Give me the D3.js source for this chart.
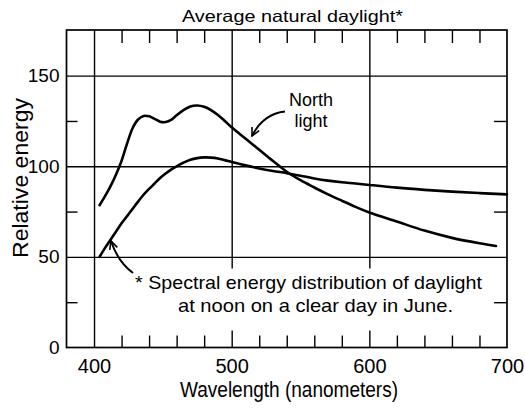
<!DOCTYPE html>
<html>
<head>
<meta charset="utf-8">
<script src="https://cdn.jsdelivr.net/npm/d3@7"></script>
<style>
  html, body { margin: 0; padding: 0; background: #fff; }
  svg { display: block; }
  text { font-family: "Liberation Sans", Arial, sans-serif; fill: #000; }
</style>
</head>
<body>
<svg id="chart" width="525" height="413"></svg>
<script>
// Spectral energy curves (wavelength in nm, relative energy)
const northWavelength = [404, 408, 412, 416, 420, 424, 428, 432, 436, 440, 444, 448, 452, 456, 460, 465, 470, 475, 480, 485, 490, 495, 500, 510, 520, 530, 540, 550, 560, 570, 580, 590, 600, 620, 640, 660, 680, 692];
const northEnergy     = [78.5, 83.5, 89, 95.5, 103, 112.5, 121, 125.8, 127.8, 127.6, 126.2, 124.6, 124.4, 125.6, 128.2, 131, 133, 133.5, 132.8, 131, 128.3, 125, 121.5, 115.3, 109.1, 102.9, 97, 92.3, 88.3, 84.5, 81, 77.6, 74.5, 69.5, 64.5, 60.5, 57.5, 56];

const avgWavelength = [404, 408, 412, 416, 420, 424, 428, 432, 436, 440, 444, 448, 452, 456, 460, 465, 470, 475, 480, 485, 490, 495, 500, 510, 520, 530, 540, 550, 560, 570, 580, 590, 600, 620, 640, 660, 680, 700];
const avgEnergy     = [50, 55, 59.5, 64, 68.5, 72.5, 76.5, 80.5, 84.3, 87.5, 90.5, 93.5, 96, 98.2, 100, 102, 103.6, 104.5, 104.9, 104.8, 104.3, 103.4, 102.4, 100.5, 98.8, 97.4, 96.2, 94.8, 93.3, 92.1, 91.2, 90.5, 89.7, 88.2, 87, 86, 85.2, 84.5];

// Axis ticks
const xTickLabels = [400, 500, 600, 700];
const yTickLabels = [0, 50, 100, 150];
const xGridValues = [400, 500, 600];
const yGridValues = [50, 100, 150];
const xMinorTicks = [420, 440, 460, 480, 520, 540, 560, 580, 620, 640, 660, 680];
const yMinorTicks = [25, 75, 125];

// Text
const titleText = "Average natural daylight*";
const xAxisTitle = "Wavelength (nanometers)";
const yAxisTitle = "Relative energy";
const northLabel = ["North", "light"];
const noteLines = ["* Spectral energy distribution of daylight", "at noon on a clear day in June."];

const svg = d3.select("#chart");
const plotLeft = 66.5, plotRight = 507, plotTop = 30, plotBottom = 347.5;

const x = d3.scaleLinear().domain([380, 700]).range([plotLeft, plotRight]);
const y = d3.scaleLinear().domain([0, 175.2]).range([plotBottom, plotTop]);

// Grid lines
svg.append("g")
  .attr("transform", `translate(0,${plotBottom})`)
  .call(d3.axisBottom(x).tickValues(xGridValues).tickSize(-(plotBottom - plotTop)).tickFormat(""))
  .call(g => g.select(".domain").remove())
  .call(g => g.selectAll("line").attr("stroke", "#000").attr("stroke-width", 1.4));

svg.append("g")
  .attr("transform", `translate(${plotLeft},0)`)
  .call(d3.axisLeft(y).tickValues(yGridValues).tickSize(-(plotRight - plotLeft)).tickFormat(""))
  .call(g => g.select(".domain").remove())
  .call(g => g.selectAll("line").attr("stroke", "#000").attr("stroke-width", 1.4));

// Minor ticks on all four sides, pointing inward
function minor(axis, transform) {
  svg.append("g")
    .attr("transform", transform)
    .call(axis)
    .call(g => g.select(".domain").remove())
    .call(g => g.selectAll("line").attr("stroke", "#000").attr("stroke-width", 1.4));
}
minor(d3.axisTop(x).tickValues(xMinorTicks).tickSize(-13).tickFormat(""), `translate(0,${plotTop})`);
minor(d3.axisBottom(x).tickValues(xMinorTicks).tickSize(-12).tickFormat(""), `translate(0,${plotBottom})`);
minor(d3.axisLeft(y).tickValues(yMinorTicks).tickSize(-11).tickFormat(""), `translate(${plotLeft},0)`);
minor(d3.axisRight(y).tickValues(yMinorTicks).tickSize(-13).tickFormat(""), `translate(${plotRight},0)`);

// Frame
svg.append("rect")
  .attr("x", plotLeft).attr("y", plotTop)
  .attr("width", plotRight - plotLeft).attr("height", plotBottom - plotTop)
  .attr("fill", "none").attr("stroke", "#000").attr("stroke-width", 1.7);

// Tick labels
svg.append("g")
  .attr("transform", `translate(0,${plotBottom})`)
  .call(d3.axisBottom(x).tickValues(xTickLabels).tickSize(0).tickPadding(11))
  .call(g => g.select(".domain").remove())
  .call(g => g.selectAll("text").attr("font-size", 20).attr("font-family", "Liberation Sans, Arial, sans-serif").attr("fill", "#000"));

svg.append("g")
  .attr("transform", `translate(${plotLeft},0)`)
  .call(d3.axisLeft(y).tickValues(yTickLabels).tickSize(0).tickPadding(7))
  .call(g => g.select(".domain").remove())
  .call(g => g.selectAll("text").attr("font-size", 19).attr("font-family", "Liberation Sans, Arial, sans-serif").attr("fill", "#000"));

// Titles
svg.append("text")
  .attr("x", 182).attr("y", 21.5)
  .attr("font-size", 16.5)
  .attr("textLength", 221).attr("lengthAdjust", "spacingAndGlyphs")
  .text(titleText);

svg.append("text")
  .attr("x", 180).attr("y", 397)
  .attr("font-size", 22)
  .attr("textLength", 218).attr("lengthAdjust", "spacingAndGlyphs")
  .text(xAxisTitle);

svg.append("text")
  .attr("transform", "translate(28,258) rotate(-90)")
  .attr("font-size", 22)
  .attr("textLength", 160).attr("lengthAdjust", "spacingAndGlyphs")
  .text(yAxisTitle);

// Footnote panel (white background over the grid)
svg.append("rect")
  .attr("x", 128).attr("y", 268.5)
  .attr("width", 362).attr("height", 62)
  .attr("fill", "#fff");

svg.append("text")
  .attr("x", 135).attr("y", 288.7)
  .attr("font-size", 18.5)
  .attr("textLength", 347).attr("lengthAdjust", "spacingAndGlyphs")
  .text(noteLines[0]);
svg.append("text")
  .attr("x", 178).attr("y", 312)
  .attr("font-size", 18.5)
  .attr("textLength", 275).attr("lengthAdjust", "spacingAndGlyphs")
  .text(noteLines[1]);

// Curves
const line = d3.line()
  .x(d => x(d[0]))
  .y(d => y(d[1]))
  .curve(d3.curveCatmullRom.alpha(0.5));

const northData = d3.zip(northWavelength, northEnergy);
const avgData = d3.zip(avgWavelength, avgEnergy);

svg.append("path")
  .datum(northData)
  .attr("d", line)
  .attr("fill", "none").attr("stroke", "#000").attr("stroke-width", 2.6)
  .attr("stroke-linejoin", "round").attr("stroke-linecap", "round");

svg.append("path")
  .datum(avgData)
  .attr("d", line)
  .attr("fill", "none").attr("stroke", "#000").attr("stroke-width", 2.6)
  .attr("stroke-linejoin", "round").attr("stroke-linecap", "round");

// Curve label
svg.append("text")
  .attr("x", 311).attr("y", 105.5)
  .attr("text-anchor", "middle").attr("font-size", 18)
  .text(northLabel[0]);
svg.append("text")
  .attr("x", 311).attr("y", 127)
  .attr("text-anchor", "middle").attr("font-size", 18)
  .text(northLabel[1]);

// Open arrowheads
svg.append("defs").append("marker")
  .attr("id", "arrow")
  .attr("viewBox", "0 0 10 10")
  .attr("refX", 9).attr("refY", 5)
  .attr("markerWidth", 10).attr("markerHeight", 10)
  .attr("markerUnits", "userSpaceOnUse")
  .attr("orient", "auto")
  .append("path")
  .attr("d", "M1,1 L9,5 L1,9")
  .attr("fill", "none").attr("stroke", "#000").attr("stroke-width", 1.6);

svg.append("path")
  .attr("d", "M285,111.5 Q263,114 252,136")
  .attr("fill", "none").attr("stroke", "#000").attr("stroke-width", 2)
  .attr("marker-end", "url(#arrow)");

svg.append("path")
  .attr("d", "M133,273 Q118,262 111,241")
  .attr("fill", "none").attr("stroke", "#000").attr("stroke-width", 2)
  .attr("marker-end", "url(#arrow)");
</script>
</body>
</html>
